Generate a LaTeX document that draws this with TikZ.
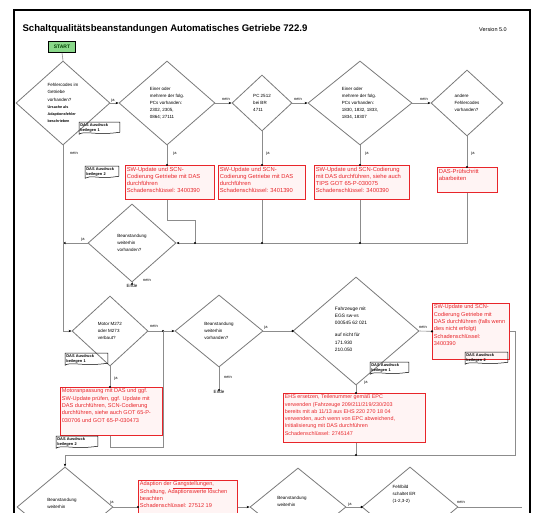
\documentclass[tikz,border=0pt]{standalone}
\usepackage{fontspec}
\setmainfont{Liberation Sans}
\usetikzlibrary{shapes.geometric,arrows.meta,calc}
\definecolor{linegray}{HTML}{8C8C8C}
\definecolor{diagray}{HTML}{7A7A7A}
\definecolor{boxred}{HTML}{E8252A}
\definecolor{boxpink}{HTML}{FFF4F4}
\definecolor{startgreen}{HTML}{8AD88A}
\newcommand\rtext[3]{\parbox[t][#2][t]{#1}{\raggedright #3}}
\newcommand\rl[1]{\mbox{#1}}
\newcommand\cbox[4]{%
  \node[cmt, text width=#3, anchor=north west] (#1) at (#2) {DAS Ausdruck\\#4};
  \draw[cmtline] (#1.north west) -- (#1.north east) -- ([yshift=1pt]#1.south east)
    .. controls ([xshift=-4pt,yshift=-2.5pt]#1.south) and ([xshift=6pt,yshift=3pt]#1.south west) .. ([yshift=-1pt]#1.south west) -- cycle;}
\tikzset{
  conn/.style={draw=linegray, line width=0.6pt},
  arr/.style={conn, -{Stealth[length=3pt,width=2.4pt,color=black]}},
  dia/.style={diamond, draw=diagray, line width=0.8pt, inner sep=0.5pt, align=left,
    font=\fontsize{4.5}{7.1}\selectfont},
  dtext/.style={align=left, inner sep=0pt, font=\fontsize{4.5}{7.1}\selectfont},
  redbox/.style={draw=boxred, fill=boxpink, text=boxred, line width=0.7pt, inner sep=1.5pt,
    font=\fontsize{5.8}{7.3}\selectfont},
  lbl/.style={font=\fontsize{4}{4.5}\selectfont, inner sep=0.5pt},
  cmt/.style={inner sep=1.2pt, align=left, font=\bfseries\fontsize{3.9}{4.8}\selectfont},
  cmtline/.style={draw=black, line width=0.5pt},
  jdot/.style={fill=black}
}
\begin{document}
\begin{tikzpicture}[x=1pt,y=-1pt]
\useasboundingbox (0,0) rectangle (537,512);
\fill[white] (0,0) rectangle (537,512);
\clip (0,0) rectangle (537,512);
\draw[line width=1.4pt] (14,10) rectangle (530,540);

\node[anchor=west, font=\bfseries\fontsize{9.6}{10}\selectfont] (title) at (19,29) {Schaltqualitätsbeanstandungen Automatisches Getriebe 722.9};
\node[font=\fontsize{5.5}{6}\selectfont] (ver) at (493,30) {Version 5.0};

\node[draw=black, fill=startgreen, line width=0.6pt, font=\bfseries\fontsize{5}{6}\selectfont,
  minimum width=27pt, minimum height=11pt, inner sep=0pt, text=black!75!green] (start) at (62,47) {START};

% diamonds
\node[dia, minimum width=94pt, minimum height=84pt] (d1) at (63,103)
  {Fehlercodes im\\Getriebe\\vorhanden?\\{\bfseries\fontsize{3.7}{5}\selectfont Ursache als}\\{\bfseries\fontsize{3.7}{5}\selectfont Adaptionsfehler}\\{\bfseries\fontsize{3.7}{5}\selectfont beschrieben}};
\node[dia, minimum width=96pt, minimum height=84pt] (d2) at (167,103)
  {Einer oder\\mehrere der folg.\\PCs vorhanden:\\2302, 2305,\\0864; 27111};
\node[dia, minimum width=60pt, minimum height=56pt] (d3) at (262,103)
  {PC 2512\\bei BR\\4711};
\node[dia, minimum width=104pt, minimum height=84pt] (d4) at (360,103)
  {Einer oder\\mehrere der folg.\\PCs vorhanden:\\1830, 1832, 1833,\\1834, 18307};
\node[dia, minimum width=72pt, minimum height=66pt] (d5) at (467,103)
  {andere\\Fehlercodes\\vorhanden?};
\node[dia, minimum width=88pt, minimum height=78pt] (d6) at (132,243)
  {Beanstandung\\weiterhin\\vorhanden?};
\node[dia, minimum width=76pt, minimum height=70pt] (d7) at (110,331)
  {Motor M272\\oder M273\\verbaut?};
\node[dia, minimum width=88pt, minimum height=72pt] (d8) at (219,331)
  {Beanstandung\\weiterhin\\vorhanden?};
\node[dia, minimum width=126pt, minimum height=108pt] (d9) at (356,331) {};
\node[dtext, font=\fontsize{4.8}{7.2}\selectfont] (d9t) at (351,329)
  {Fahrzeuge mit\\EGS sw-vs\\000545 62 021\\[5pt]auf nicht für\\171.930\\210.050};
\node[dia, minimum width=96pt, minimum height=80pt] (d10) at (65,507) {};
\node[dtext] (d10t) at (62,503) {Beanstandung\\weiterhin};
\node[dia, minimum width=96pt, minimum height=78pt] (d11) at (298,507) {};
\node[dtext] (d11t) at (292,501) {Beanstandung\\weiterhin};
\node[dia, minimum width=96pt, minimum height=80pt] (d12) at (410,507) {};
\node[dtext] (d12t) at (404,494)
  {Fehlbild\\schaltet ER\\(1-2,3-2)};

% red boxes
\node[redbox, anchor=north west] (r1) at (125,165) {\rtext{86pt}{31pt}{\rl{SW-Update und SCN-}\\\rl{Codierung Getriebe mit DAS}\\\rl{durchführen}\\\rl{Schadenschlüssel: 3400390}}};
\node[redbox, anchor=north west] (r2) at (218,165) {\rtext{84pt}{31pt}{\rl{SW-Update und SCN-}\\\rl{Codierung Getriebe mit DAS}\\\rl{durchführen}\\\rl{Schadenschlüssel: 3401390}}};
\node[redbox, anchor=north west] (r3) at (314,165) {\rtext{92pt}{31pt}{\rl{SW-Update und SCN-Codierung}\\\rl{mit DAS durchführen, siehe auch}\\\rl{TIPS GOT 65-P-030075}\\\rl{Schadenschlüssel: 3400390}}};
\node[redbox, anchor=north west] (r4) at (437,167) {\rtext{57pt}{22pt}{\rl{DAS-Prüfschritt}\\\rl{abarbeiten}}};
\node[redbox, anchor=north west, font=\fontsize{5.6}{7.3}\selectfont] (r5) at (60,387) {\rtext{99pt}{45pt}{\rl{Motoranpassung mit DAS und ggf.}\\\rl{SW-Update prüfen, ggf. Update mit}\\\rl{DAS durchführen, SCN-Codierung}\\\rl{durchführen, siehe auch GOT 65-P-}\\\rl{030706 und GOT 65-P-030473}}};
\node[redbox, anchor=north west, font=\fontsize{5.6}{7.3}\selectfont] (r6) at (432,303) {\rtext{74pt}{53pt}{\rl{SW-Update und SCN-}\\\rl{Codierung Getriebe mit}\\\rl{DAS durchführen (falls wenn}\\\rl{dies nicht erfolgt)}\\\rl{Schadenschlüssel:}\\\rl{3400390}}};
\node[redbox, anchor=north west, font=\fontsize{5.4}{7.3}\selectfont] (r7) at (283,393) {\rtext{139pt}{46pt}{\rl{EHS ersetzen, Teilenummer gemäß EPC}\\\rl{verwenden (Fahrzeuge 209/211/219/230/203}\\\rl{bereits mit ab 11/13 aus EHS 220 270 18 04}\\\rl{verwenden, auch wenn von EPC abweichend,}\\\rl{Initialisierung mit DAS durchführen}\\\rl{Schadenschlüssel: 2745147}}};
\node[redbox, anchor=north west, font=\fontsize{5.6}{7.3}\selectfont] (r8) at (138,480) {\rtext{96pt}{40pt}{\rl{Adaption der \underline{Gangstellungen},}\\\rl{Schaltung, Adaptionswerte löschen}\\\rl{beachten}\\\rl{Schadenschlüssel: 27512 19}}};

% comment boxes
\cbox{c1}{79,122}{38pt}{beilegen 1}
\cbox{c2}{85,166}{31pt}{beilegen 2}
\cbox{c3}{65,353}{40pt}{beilegen 1}
\cbox{c4}{370,362}{36pt}{beilegen 1}
\cbox{c5}{465,352}{40pt}{beilegen 2}
\cbox{c6}{56,436}{39pt}{beilegen 2}

% helper coordinates
\coordinate (k1) at (195,220);
\coordinate (m1) at (195,243);
\coordinate (j1) at (163,331);
\coordinate (k2) at (163,447);
\coordinate (k3) at (515,455);
\coordinate (k4) at (522,507);

% connectors top row
\draw[conn] (start.south) -- (d1.north);
\draw[arr] (d1.east) -- (d2.west);
\draw[arr] (d2.east) -- (d3.west);
\draw[arr] (d3.east) -- (d4.west);
\draw[arr] (d4.east) -- (d5.west);
\draw[conn] (d2.south) -- (d2.south |- r1.north);
\draw[conn] (d3.south) -- (d3.south |- r2.north);
\draw[conn] (d4.south) -- (d4.south |- r3.north);
\draw[conn] (d5.south) -- (d5.south |- r4.north);
\fill[jdot] (d2.south |- r1.north) circle (1.2pt);
\fill[jdot] (d3.south |- r2.north) circle (1.2pt);
\fill[jdot] (d4.south |- r3.north) circle (1.2pt);
\fill[jdot] (d5.south |- r4.north) circle (1.2pt);

% merge line
\draw[conn] (d2.south |- r1.south) |- (k1) -- (m1);
\draw[conn] (d3.south |- r2.south) -- (d3.south |- m1);
\draw[conn] (d4.south |- r3.south) -- (d4.south |- m1);
\draw[arr] (d5.south |- r4.south) -- (d5.south |- m1) -- (d6.east);
\fill[jdot] (m1) circle (1.2pt);
\fill[jdot] (d3.south |- m1) circle (1.2pt);
\fill[jdot] (d4.south |- m1) circle (1.2pt);
\draw[arr] (d6.west) -- (d6.west -| d1.south);
\node[lbl, anchor=north, font=\fontsize{4.5}{5}\selectfont] (e1) at (132,284) {Ende};
\draw[conn] (d6.south) -- (e1.north);
\fill[jdot] (e1.north) circle (1.2pt);

% middle row
\draw[arr] (d1.south) |- (d7.west);
\draw[arr] (d7.east) -- (d8.west);
\fill[jdot] (j1) circle (1.2pt);
\draw[conn] (d7.south) -- (d7.south |- r5.north);
\fill[jdot] (d7.south |- r5.north) circle (1.2pt);
\draw[conn] (d7.south |- r5.south) |- (k2) -- (j1);
\draw[conn] (d8.east) -- (d9.west);
\fill[jdot] (d9.west) circle (1.2pt);
\node[lbl, anchor=north, font=\fontsize{4.5}{5}\selectfont] (e2) at (219,390) {Ende};
\draw[conn] (d8.south) -- (e2.north);
\fill[jdot] (e2.north) circle (1.2pt);
\draw[conn] (d9.east) -- (r6.west);
\fill[jdot] (r6.west) circle (1.2pt);
\draw[conn] (d9.south) -- (d9.south |- r7.north);
\fill[jdot] (d9.south |- r7.north) circle (1.2pt);
\draw[arr] (r6.east) -| (k3) -| (d10.north);
\draw[conn] (d9.south |- r7.south) -- (d9.south |- k3);
\fill[jdot] (d9.south |- k3) circle (1.2pt);

% bottom row
\draw[conn] (d10.east) -- (d10.east -| r8.west);
\fill[jdot] (d10.east -| r8.west) circle (1.2pt);
\draw[arr] (d11.west -| r8.east) -- (d11.west);
\draw[conn] (d11.east) -- (d12.west);
\fill[jdot] (d12.west) circle (1.2pt);
\draw[conn] (d12.east) -- (k4);

% labels
\node[lbl] (l1) at (113,100) {ja};
\node[lbl] (l2) at (226,99) {nein};
\node[lbl] (l3) at (298,99) {nein};
\node[lbl] (l4) at (424,99) {nein};
\node[lbl] (l5) at (175,153) {ja};
\node[lbl] (l6) at (268,153) {ja};
\node[lbl] (l7) at (367,153) {ja};
\node[lbl] (l8) at (473,153) {ja};
\node[lbl] (l9) at (74,153) {nein};
\node[lbl] (l10) at (83,239) {ja};
\node[lbl] (l11) at (147,280) {nein};
\node[lbl] (l12) at (154,326) {nein};
\node[lbl] (l13) at (116,378) {ja};
\node[lbl] (l14) at (266,327) {ja};
\node[lbl] (l15) at (228,377) {nein};
\node[lbl] (l16) at (423,327) {nein};
\node[lbl] (l17) at (366,382) {ja};
\node[lbl] (l18) at (112,502) {ja};
\node[lbl] (l19) at (350,504) {ja};
\node[lbl] (l20) at (461,502) {nein};
\end{tikzpicture}
\end{document}
